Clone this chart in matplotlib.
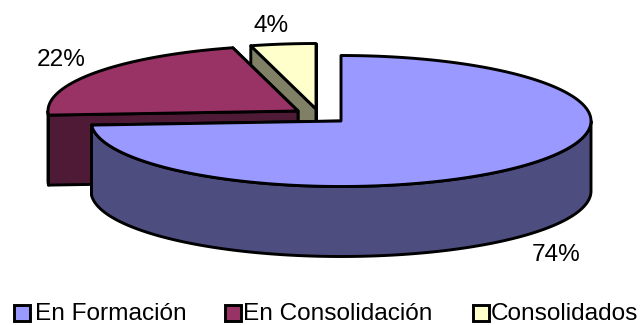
import numpy as np
import matplotlib
matplotlib.use("Agg")
import matplotlib.pyplot as plt
from matplotlib.patches import Polygon, Rectangle

categories = ["En Formación", "En Consolidación", "Consolidados"]
values = [74, 21.8, 4.2]
labels = ["74%", "22%", "4%"]
top_colors = ["#9999FF", "#993366", "#FFFFCC"]
side_colors = ["#4D4D80", "#4F1A36", "#808066"]
centers = [(341, 121), (298, 111), (316, 109)]
label_pos = [(556, 255), (61, 60), (271, 26)]
legend_box_x = [14, 225, 473]
legend_text_x = [35, 243, 491]

RX, RY, DEPTH = 250, 65.5, 70
LW = 2.1
FS = 17.6

plt.rcParams["font.family"] = ["Liberation Sans", "DejaVu Sans"]
fig = plt.figure(figsize=(6.44, 3.25), dpi=100)
ax = fig.add_axes([0, 0, 1, 1])
ax.set_xlim(0, 644)
ax.set_ylim(325, 0)
ax.axis("off")


def arc(c, a0, a1, dy=0):
    t = np.radians(np.linspace(a0, a1, max(int(abs(a1 - a0)) * 2, 2)))
    return np.column_stack([c[0] + RX * np.sin(t), c[1] + dy - RY * np.cos(t)])


def poly(pts, color, z):
    ax.add_patch(Polygon(pts, closed=True, facecolor=color, edgecolor="black",
                         linewidth=LW, joinstyle="round", zorder=z))


edges = np.concatenate([[0], np.cumsum(values)]) * 3.6
for i in [2, 1, 0]:
    c = centers[i]
    a0, a1 = edges[i], edges[i + 1]
    z = 3 - i
    ctr = np.array(c, dtype=float)
    # cut faces reaching from the centre to the rim
    for a in (a1, a0):
        rim = arc(c, a, a, 0)[0]
        poly([ctr, rim, rim + [0, DEPTH], ctr + [0, DEPTH]], side_colors[i], z)
    # outer wall: only the part facing the viewer (90..270 degrees)
    w0, w1 = max(a0, 90), min(a1, 270)
    if w1 > w0:
        up = arc(c, w0, w1)
        poly(np.vstack([up, arc(c, w1, w0, DEPTH)]), side_colors[i], z)
    poly(np.vstack([[ctr], arc(c, a0, a1)]), top_colors[i], z)
    ax.text(*label_pos[i], labels[i], ha="center", va="center", fontsize=FS, color="black", zorder=5)
    ax.add_patch(Rectangle((legend_box_x[i], 305), 16, 16, facecolor=top_colors[i],
                           edgecolor="black", linewidth=LW, zorder=5))
    ax.text(legend_text_x[i], 320, categories[i], ha="left", va="baseline", fontsize=FS, color="black", zorder=5)

fig.savefig("out.png", dpi=100, facecolor="white")
